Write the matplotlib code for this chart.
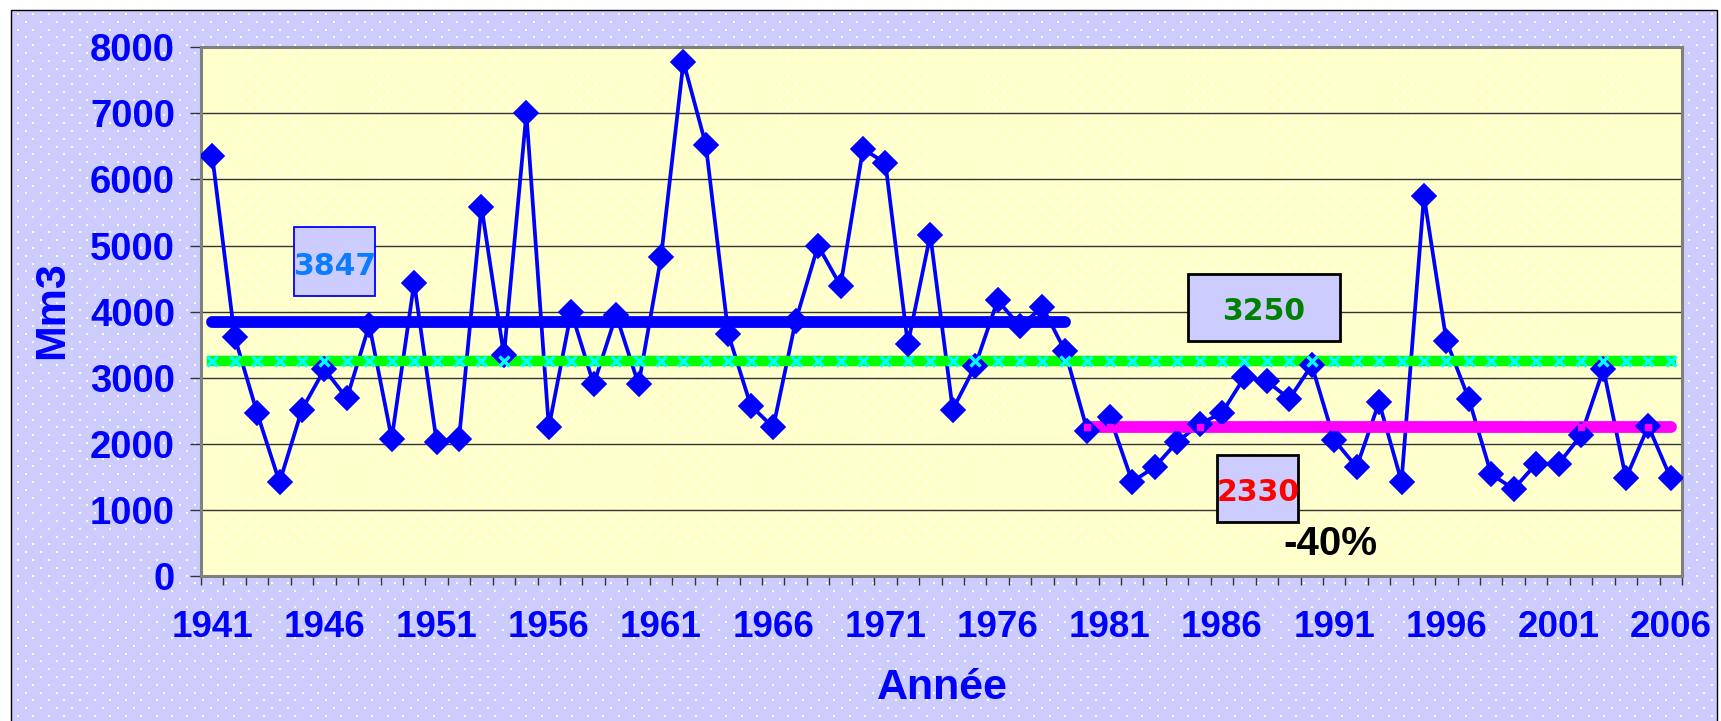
import matplotlib
matplotlib.use('Agg')
import matplotlib.pyplot as plt
from matplotlib.patches import Rectangle
from matplotlib.ticker import FixedLocator, NullFormatter
from matplotlib import font_manager as fm
import numpy as np

# ---------------- data ----------------
years = list(range(1941, 2007))
volumes = [6360, 3620, 2470, 1420, 2520, 3130, 2690, 3800, 2080, 4440,
           2030, 2080, 5590, 3340, 7000, 2250, 4000, 2900, 3950, 2900,
           4820, 7780, 6520, 3660, 2580, 2250, 3860, 5000, 4390, 6460,
           6250, 3510, 5160, 2520, 3180, 4170, 3780, 4070, 3410, 2200,
           2410, 1430, 1650, 2030, 2300, 2470, 3010, 2950, 2680, 3190,
           2060, 1650, 2630, 1430, 5750, 3560, 2680, 1540, 1320, 1700,
           1700, 2130, 3130, 1480, 2270, 1480]

mean_before = 3847          # 1941-1979
mean_before_span = (1941, 1979)
mean_all = 3250             # 1941-2006
mean_all_span = (1941, 2006)
mean_after = 2260           # level drawn for 1980-2006
mean_after_span = (1980, 2006)
label_before = "3847"
label_all = "3250"
label_after = "2330"
label_change = "-40%"
x_title = "Année"
y_title = "Mm3"
tick_step = 5

# ---------------- figure ----------------
W, H = 1721, 721
fig = plt.figure(figsize=(W / 100, H / 100), dpi=100)
fig.patch.set_facecolor('white')

L, R, T, B = 201, 1682, 47.2, 576.2

# background layer (frame, plot area, dotted texture)
bg = fig.add_axes([0, 0, 1, 1], zorder=0)
bg.set_xlim(0, W)
bg.set_ylim(H, 0)
bg.axis('off')
bg.add_patch(Rectangle((11, 10), 1706, 740, facecolor='#CCCCFF',
                       edgecolor='black', lw=1.0))
bg.add_patch(Rectangle((L, T), R - L, B - T, facecolor='#FFFFCC',
                       edgecolor='none'))
sx, sy = 15.4, 7.8
dx_list, dy_list = [], []
r = 0
y0 = 14.0
while y0 + r * sy < H:
    yy = y0 + r * sy
    off = (r % 2) * sx / 2
    xs = np.arange(18 + off, W - 4, sx)
    dx_list.append(xs)
    dy_list.append(np.full_like(xs, yy))
    r += 1
dxs = np.concatenate(dx_list)
dys = np.concatenate(dy_list)
inside = (dxs > L + 2) & (dxs < R - 2) & (dys > T + 2) & (dys < B - 2)
onframe = (dxs > 13) & (dys > 12) & (dxs < 1715) & ~(
    (dxs > L - 2) & (dxs < R + 2) & (dys > T - 2) & (dys < B + 2))
bg.scatter(dxs[inside], dys[inside], s=3.5, marker='s', color='#FFFFFF',
           linewidths=0, alpha=0.9)
bg.scatter(dxs[onframe], dys[onframe], s=4.5, marker='s', color='#FCFCE2',
           linewidths=0, alpha=1.0)

# main plot
ax = fig.add_axes([L / W, 1 - B / H, (R - L) / W, (B - T) / H], zorder=2)
ax.set_facecolor('none')

x = np.arange(len(years))
yrs = np.array(years)


def span_idx(span):
    return x[(yrs >= span[0]) & (yrs <= span[1])]


xb = span_idx(mean_before_span)
xa = span_idx(mean_all_span)
xf = span_idx(mean_after_span)

ax.plot(x, volumes, color='#0000FF', lw=2.7, zorder=3,
        solid_joinstyle='round')
ax.plot(xb, [mean_before] * len(xb), color='#0000FF', lw=8.5,
        solid_capstyle='round', zorder=4)
ax.plot(xa, [mean_all] * len(xa), color='#00FF00', lw=7.5,
        solid_capstyle='projecting', zorder=4)
ax.plot(xf, [mean_after] * len(xf), color='#FF00FF', lw=8.5,
        solid_capstyle='round', zorder=4)
ax.plot(x, volumes, ls='none', marker='D', ms=12, color='#0000FF',
        mec='#0000FF', mew=1.2, zorder=5)
ax.plot(xa, [mean_all] * len(xa), ls='none', marker='x', ms=7, mew=2.4,
        color='#00FFFF', zorder=6)
ax.plot(xf, [mean_after] * len(xf), ls='none', marker='s', ms=4.5,
        color='#FF00FF', mec='#FF00FF', zorder=6)

ax.set_xlim(-0.5, len(years) - 0.5)
ax.set_ylim(0, 8000)
ax.set_yticks(np.arange(0, 8001, 1000))
ax.yaxis.grid(True, color='#333333', lw=1.0)
ax.set_axisbelow(True)

ax.xaxis.set_major_locator(FixedLocator(x[::tick_step]))
ax.set_xticklabels([str(v) for v in years[::tick_step]])
ax.xaxis.set_minor_locator(FixedLocator(np.arange(-0.5, len(years), 1.0)))
ax.xaxis.set_minor_formatter(NullFormatter())

names = {f.name for f in fm.fontManager.ttflist}
if 'Liberation Sans Narrow' in names:
    xfam, xsize = 'Liberation Sans Narrow', 29
else:
    xfam, xsize = 'Liberation Sans', 26.5

ax.tick_params(axis='x', which='major', length=0, pad=24,
               labelcolor='#0000FF')
ax.tick_params(axis='x', which='minor', direction='out', length=6.5,
               width=1.0, color='#333333')
ax.tick_params(axis='y', direction='out', length=7.7, width=1.0,
               color='#333333', pad=11, labelcolor='#0000FF')
for tl in ax.get_xticklabels():
    tl.set_fontfamily(xfam)
    tl.set_fontsize(xsize)
    tl.set_fontweight('bold')
for tl in ax.get_yticklabels():
    tl.set_fontfamily('Liberation Sans')
    tl.set_fontsize(27.5)
    tl.set_fontweight('bold')

for s in ax.spines.values():
    s.set_color('#808080')
    s.set_linewidth(2.2)

# overlay for text boxes and titles (pixel coordinates)
ov = fig.add_axes([0, 0, 1, 1], zorder=5)
ov.set_xlim(0, W)
ov.set_ylim(H, 0)
ov.axis('off')
ov.patch.set_alpha(0)

ov.add_patch(Rectangle((294.3, 226.7), 80.7, 69.3, facecolor='#CCCCFF',
                       edgecolor='#0000FF', lw=1.3))
ov.add_patch(Rectangle((1187.5, 274), 152.4, 66.7, facecolor='#CCCCFF',
                       edgecolor='black', lw=2.0))
ov.add_patch(Rectangle((1217.4, 455), 80.3, 67, facecolor='#CCCCFF',
                       edgecolor='black', lw=2.0))

box_font = dict(family='DejaVu Sans', weight='bold', size=21.5,
                ha='center', va='baseline')
ov.text(334.7, 275, label_before, color='#0A7CFF', **box_font)
ov.text(1264, 320, label_all, color='#008000', **box_font)
ov.text(1257.7, 500.7, label_after, color='#FF0000', **box_font)
ov.text(1330.5, 555, label_change, color='black', family='Liberation Sans',
        weight='bold', size=29, ha='center', va='baseline')

ov.text(942, 699, x_title, color='#0000FF', family='Liberation Sans',
        weight='bold', size=31, ha='center', va='baseline')
ov.text(52, 310, y_title, color='#0000FF', family='Liberation Sans',
        weight='bold', size=31, ha='center', va='center', rotation=90)

fig.savefig('out.png', dpi=100)
